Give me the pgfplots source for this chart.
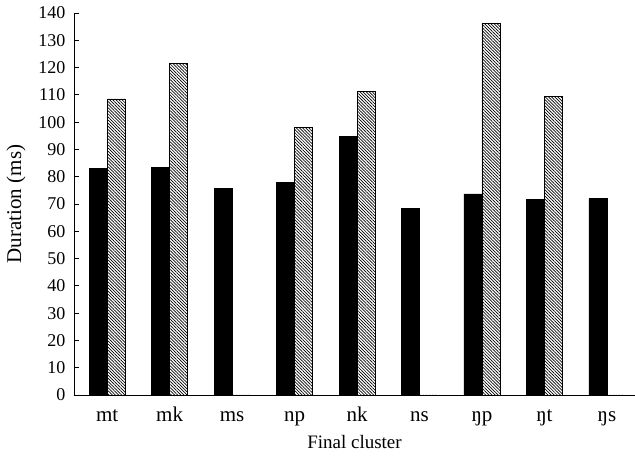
\documentclass[border=0pt]{standalone}
\usepackage{fontspec}
\setmainfont{Liberation Serif}
\usepackage{pgfplots}
\pgfplotsset{compat=1.18}
\usetikzlibrary{patterns.meta}
\pgfplotstableread{
x black hatch
0 83.0 108.5
1 83.5 121.5
2 75.7 0
3 78.0 98.0
4 94.8 111.3
5 68.3 0
6 73.7 136.3
7 71.6 109.3
8 72.0 0
}\datatable
\begin{document}
\begin{tikzpicture}
\useasboundingbox (-74pt,-65pt) rectangle (561pt,395pt);
\begin{axis}[
  anchor=south west, at={(0,0)},
  scale only axis, width=561pt, height=382pt,
  ymin=0, ymax=140, ytick distance=10,
  xmin=-0.53, xmax=8.45,
  xtick=data,
  xticklabels={mt,mk,ms,np,nk,ns,ŋp,ŋt,ŋs},
  axis x line*=bottom, axis y line*=left,
  axis line style={black, line width=0.9pt},
  x axis line style={-}, y axis line style={-},
  tick align=inside,
  major tick length=5pt,
  xtick style={draw=none},
  ytick style={black, line width=0.8pt},
  /pgf/number format/assume math mode=true,
  yticklabel style={font=\fontsize{18}{20}\selectfont, xshift=-5pt},
  xticklabel style={font=\fontsize{21}{24}\selectfont, anchor=base, yshift=-22pt},
  xlabel={Final cluster}, ylabel={Duration (ms)},
  xlabel style={font=\fontsize{19}{22}\selectfont, yshift=-2pt},
  ylabel style={font=\fontsize{21}{24}\selectfont, yshift=6pt},
  ybar=0pt, bar width=18pt,
  clip=false,
]
\addplot[fill=black, draw=black] table[x=x, y=black] {\datatable};
\addplot[draw=black, line width=0.8pt, pattern={Lines[angle=-45,distance=2.2pt,line width=0.7pt]}] table[x=x, y=hatch] {\datatable};
\end{axis}
\end{tikzpicture}
\end{document}
